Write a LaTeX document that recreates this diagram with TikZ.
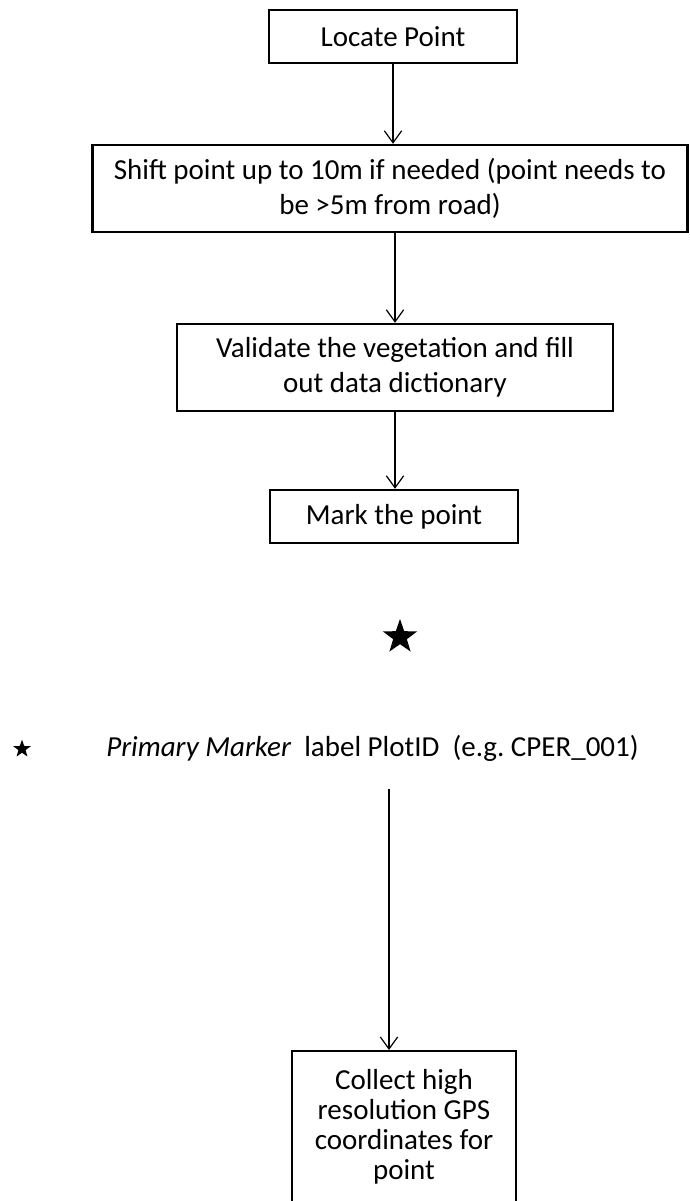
\documentclass[tikz,border=0pt]{standalone}
\usepackage{fontspec}
\setmainfont{Carlito}
\usetikzlibrary{arrows.meta,positioning,shapes.geometric}
\newcommand{\boxfont}{\fontsize{21.75}{26.3}\selectfont}
\tikzset{
  stepbox/.style={draw, line width=1.8pt, align=center, inner sep=0pt, font=\boxfont},
  flowln/.style={-{Straight Barb[length=9pt,width=13pt]}, line width=0.9pt},
  starmark/.style={star, star points=5, star point ratio=2.5, fill=black, inner sep=0pt},
}

\begin{document}
\begin{tikzpicture}[x=0.75pt, y=-0.75pt]
  \useasboundingbox (0,0) rectangle (689,1201);
  % flow of steps
  \node[stepbox, minimum width=186pt, minimum height=39.75pt] (locate) at (393,36.5) {Locate Point};
  \node[stepbox, minimum width=446pt, minimum height=65.25pt] (shift) at (390,188.5)
    {Shift point up to 10m if needed (point needs to\\be >5m from road)};
  \node[stepbox, minimum width=327pt, minimum height=65.25pt] (validate) at (395,367.5)
    {Validate the vegetation and fill\\out data dictionary};
  \node[stepbox, minimum width=186pt, minimum height=39.75pt] (mark) at (394,516.5) {Mark the point};
  \draw[flowln] (locate.south) -- (locate.south |- shift.north);
  \draw[flowln] (validate.north |- shift.south) -- (validate.north);
  \draw[flowln] (validate.south) -- (validate.south |- mark.north);
  % marker symbol and its legend
  \node[starmark, minimum size=27pt] (bigstar) at (400,637) {};
  \node[starmark, minimum size=14pt] (smallstar) at (22,749) {};
  \node[font=\boxfont, anchor=west, inner sep=0pt] (legend) at (106,748)
    {\textit{Primary Marker}\ \ label PlotID\ \ (e.g.\ CPER\_001)};
  % last step, runs off the page
  \node[stepbox, font=\fontsize{21.75}{22.5}\selectfont, minimum width=168pt, inner ysep=13.5pt, anchor=north] (collect) at (404,1050)
    {Collect high\\resolution GPS\\coordinates for\\point\\\mbox{}};
  \coordinate (tailpt) at (389,789);
  \draw[flowln] (tailpt) -- (tailpt |- collect.north);
\end{tikzpicture}
\end{document}
